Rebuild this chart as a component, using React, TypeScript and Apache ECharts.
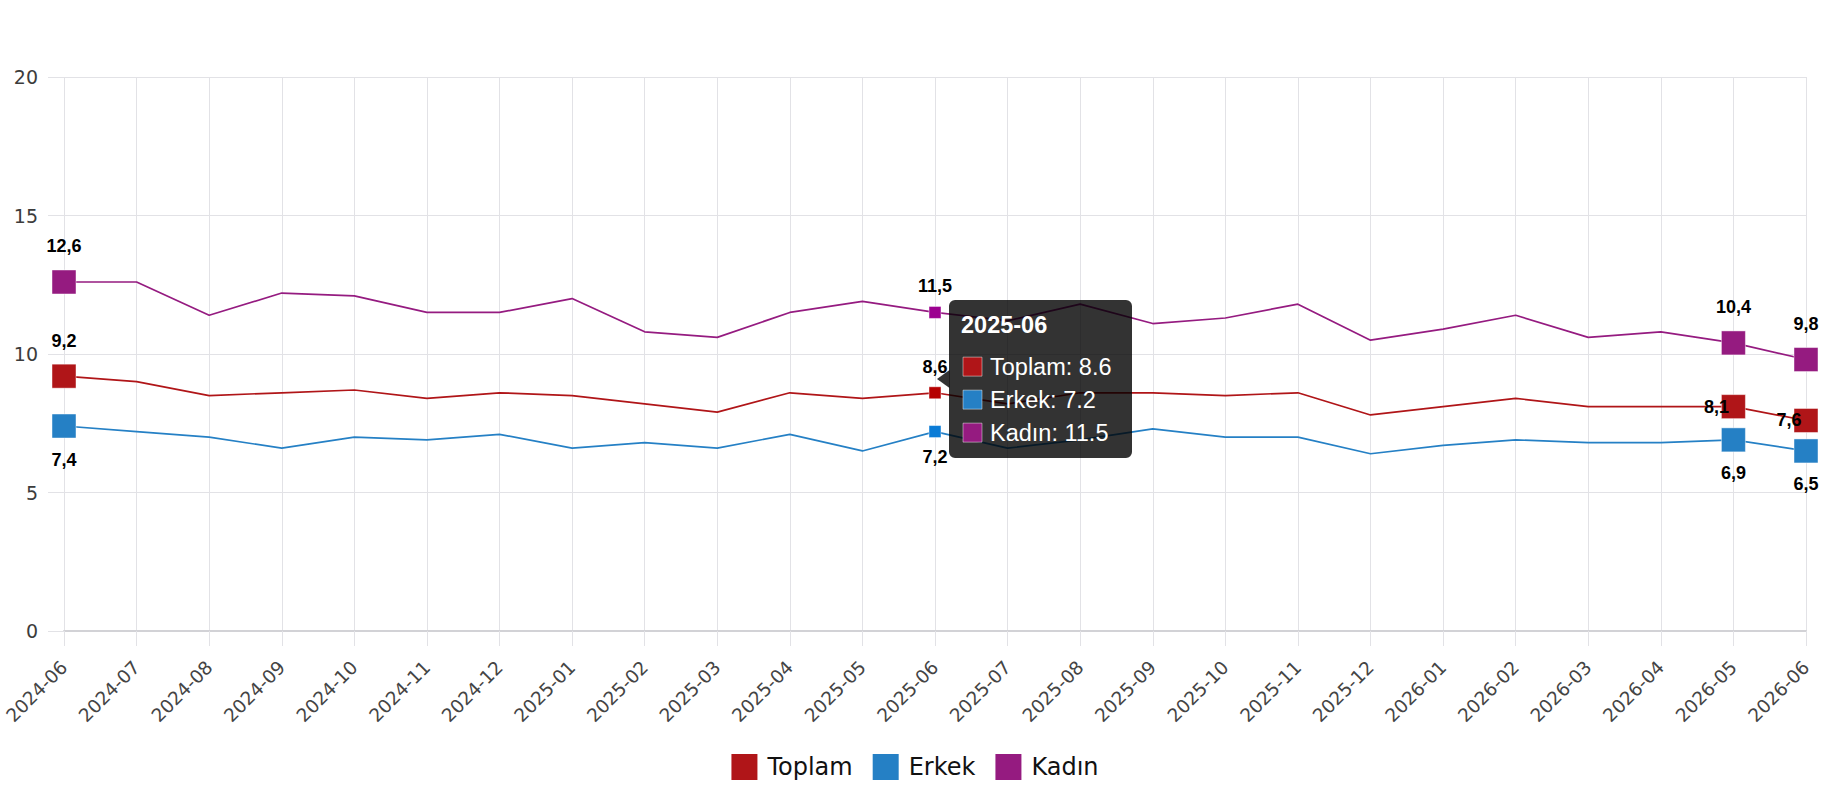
import React, { useEffect, useRef } from "react";
import * as echarts from "echarts";

const categories = [
  "2024-06", "2024-07", "2024-08", "2024-09", "2024-10", "2024-11", "2024-12",
  "2025-01", "2025-02", "2025-03", "2025-04", "2025-05", "2025-06", "2025-07",
  "2025-08", "2025-09", "2025-10", "2025-11", "2025-12", "2026-01", "2026-02",
  "2026-03", "2026-04", "2026-05", "2026-06",
];
const toplam = [9.2, 9.0, 8.5, 8.6, 8.7, 8.4, 8.6, 8.5, 8.2, 7.9, 8.6, 8.4, 8.6, 8.2, 8.6, 8.6, 8.5, 8.6, 7.8, 8.1, 8.4, 8.1, 8.1, 8.1, 7.6];
const erkek = [7.4, 7.2, 7.0, 6.6, 7.0, 6.9, 7.1, 6.6, 6.8, 6.6, 7.1, 6.5, 7.2, 6.6, 6.9, 7.3, 7.0, 7.0, 6.4, 6.7, 6.9, 6.8, 6.8, 6.9, 6.5];
const kadin = [12.6, 12.6, 11.4, 12.2, 12.1, 11.5, 11.5, 12.0, 10.8, 10.6, 11.5, 11.9, 11.5, 11.2, 11.8, 11.1, 11.3, 11.8, 10.5, 10.9, 11.4, 10.6, 10.8, 10.4, 9.8];
const seriesNames = ["Toplam", "Erkek", "Kadın"];
const yTicks = { min: 0, max: 20, interval: 5 };

const colors = ["#B01518", "#2580C5", "#951B80"];
const hoverColors = ["#B50000", "#0A7BD6", "#9C0090"];
const bigIdx = [0, 23, 24];
const hoverIdx = 12;

const fmt = (v: number) => v.toFixed(1).replace(".", ",");

function buildData(values: number[], s: number) {
  return values.map((v, i) => {
    const big = bigIdx.includes(i);
    const hov = i === hoverIdx;
    if (!big && !hov) return { value: v, symbolSize: 0 };
    let label: any = { show: true };
    if (s === 2) label = { show: true, position: "top", distance: big ? 14 : 11 };
    if (s === 1) label = { show: true, position: "bottom", distance: big ? 12 : 10 };
    if (s === 0) {
      if (i >= 23) label = { show: true, position: "inside", offset: [-17, 0] };
      else label = { show: true, position: "top", distance: big ? 14 : 10 };
    }
    return {
      value: v,
      symbolSize: big ? 24 : 12,
      itemStyle: {
        color: hov ? hoverColors[s] : colors[s],
        borderColor: "rgba(255,255,255,0.45)",
        borderWidth: 1,
      },
      label,
    };
  });
}

export default function App() {
  const ref = useRef<HTMLDivElement>(null);
  useEffect(() => {
    if (!ref.current) return;
    const chart = echarts.init(ref.current, null, { renderer: "svg" });
    const all = [toplam, erkek, kadin];
    const option: any = {
      animation: false,
      backgroundColor: "#ffffff",
      grid: { left: 64, right: 24, top: 77, bottom: 169, containLabel: false },
      legend: {
        data: seriesNames.map((n, i) => ({ name: n, itemStyle: { color: colors[i] } })),
        top: 749,
        left: "center",
        icon: "rect",
        itemWidth: 26,
        itemHeight: 26,
        itemGap: 20,
        textStyle: { fontFamily: "DejaVu Sans", fontSize: 24, color: "#111", padding: [0, 0, 0, 5] },
      },
      xAxis: {
        type: "category",
        data: categories,
        boundaryGap: false,
        axisLine: { show: true, lineStyle: { color: "#d2d2d6", width: 2 } },
        axisTick: { show: true, length: 15, interval: 0, lineStyle: { color: "#e2e2e6" } },
        splitLine: { show: true, interval: 0, lineStyle: { color: "#e2e2e6", width: 1 } },
        axisLabel: {
          interval: 0,
          rotate: 45,
          margin: 33,
          fontFamily: "DejaVu Sans",
          fontSize: 18.5,
          color: "#444",
        },
      },
      yAxis: {
        type: "value",
        min: yTicks.min,
        max: yTicks.max,
        interval: yTicks.interval,
        axisLine: { show: false },
        axisTick: { show: true, length: 16, lineStyle: { color: "#e2e2e6" } },
        splitLine: { show: true, lineStyle: { color: "#e2e2e6", width: 1 } },
        axisLabel: { margin: 26, fontFamily: "DejaVu Sans", fontSize: 19, color: "#3c3c3c" },
      },
      series: all.map((vals, s) => ({
        name: seriesNames[s],
        type: "line",
        data: buildData(vals, s),
        symbol: "rect",
        symbolSize: 0,
        showSymbol: true,
        showAllSymbol: true,
        color: colors[s],
        lineStyle: { color: colors[s], width: 1.7 },
        emphasis: { disabled: true },
        label: {
          show: false,
          formatter: (p: any) => fmt(p.value),
          fontFamily: "Liberation Sans",
          fontWeight: "bold",
          fontSize: 18,
          color: "#000",
        },
        z: 3 - s,
      })),
    };
    chart.setOption(option);

    const idx = hoverIdx;
    const avg = (toplam[idx] + erkek[idx] + kadin[idx]) / 3;
    const pt = chart.convertToPixel({ xAxisIndex: 0, yAxisIndex: 0 }, [categories[idx], avg]) as number[];
    const tx = pt[0] + 2;
    const ty = pt[1];
    const x0 = tx + 12;
    const y0 = ty - 79;
    const font = '23.5px "Liberation Sans", Arial, sans-serif';
    const rows = all.map((vals, s) => {
      const cy = ty - 12.3 + s * 33;
      return [
        {
          type: "rect",
          shape: { x: x0 + 14, y: cy - 9.5, width: 19, height: 19 },
          style: { fill: colors[s], stroke: "rgba(255,255,255,0.45)", lineWidth: 1 },
          z: 101,
        },
        {
          type: "text",
          x: x0 + 41,
          y: cy,
          style: { text: `${seriesNames[s]}: ${vals[idx]}`, font, fill: "#fff", verticalAlign: "middle", align: "left" },
          z: 101,
        },
      ];
    }).flat();
    chart.setOption({
      graphic: {
        elements: [
          {
            type: "polygon",
            shape: { points: [[tx, ty], [x0 + 0.5, ty - 9], [x0 + 0.5, ty + 9]] },
            style: { fill: "rgba(0,0,0,0.8)" },
            z: 100,
          },
          {
            type: "rect",
            shape: { x: x0, y: y0, width: 183, height: 158, r: 6 },
            style: { fill: "rgba(0,0,0,0.8)" },
            z: 100,
          },
          {
            type: "text",
            x: x0 + 12,
            y: ty - 54,
            style: {
              text: categories[idx],
              font: 'bold 23.5px "Liberation Sans", Arial, sans-serif',
              fill: "#fff",
              verticalAlign: "middle",
              align: "left",
            },
            z: 101,
          },
          ...rows,
        ],
      },
    });
    return () => chart.dispose();
  }, []);
  return (
    <div style={{ position: "fixed", left: 0, top: 0, width: 1830, height: 800, background: "#fff" }}>
      <div ref={ref} style={{ width: 1830, height: 800 }} />
    </div>
  );
}
